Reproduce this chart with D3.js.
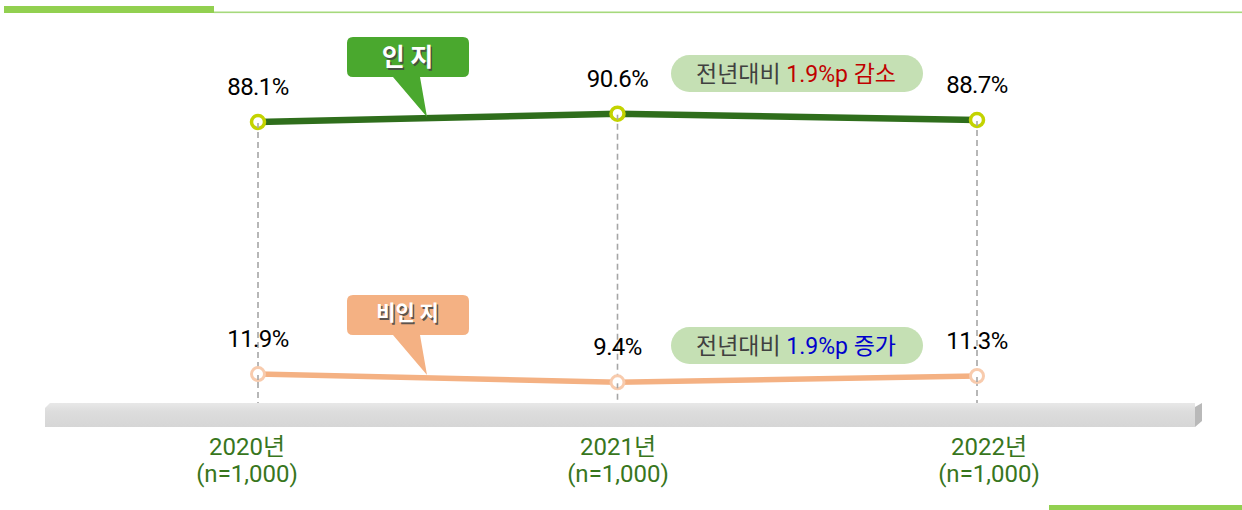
<!DOCTYPE html>
<html><head><meta charset="utf-8">
<script src="https://cdn.jsdelivr.net/npm/d3@7"></script>
<style>
html,body{margin:0;padding:0;background:#fff;}
svg{display:block;font-family:Roboto,"Noto Sans CJK KR",sans-serif;}
</style></head>
<body>
<svg id="c" width="1242" height="510"></svg>
<script>
const years = ["2020년", "2021년", "2022년"];
const sampleLabels = ["(n=1,000)", "(n=1,000)", "(n=1,000)"];
const aware = [88.1, 90.6, 88.7];
const unaware = [11.9, 9.4, 11.3];
const awareName = "인 지";
const unawareName = "비인 지";
const awareChange = ["전년대비 ", "1.9%p 감소"];
const unawareChange = ["전년대비 ", "1.9%p 증가"];

const svg = d3.select("#c");
const x = d3.scalePoint().domain(years).range([258, 977]);
const xLabel = d3.scalePoint().domain(years).range([247, 989]);
const y = d3.scaleLinear().domain([0, 100]).range([413.4, 82.6]);

// decorative bars
svg.append("rect").attr("x",4).attr("y",6).attr("width",210).attr("height",7).attr("fill","#92d050");
svg.append("rect").attr("x",214).attr("y",11.5).attr("width",1028).attr("height",1.6).attr("fill","#a6d97c");
svg.append("rect").attr("x",1049).attr("y",505).attr("width",193).attr("height",5).attr("fill","#92d050");

// platform
const defs = svg.append("defs");
const g1 = defs.append("linearGradient").attr("id","plat").attr("x1",0).attr("y1",0).attr("x2",0).attr("y2",1);
g1.append("stop").attr("offset","0%").attr("stop-color","#e8e8e8");
g1.append("stop").attr("offset","35%").attr("stop-color","#dddddd");
g1.append("stop").attr("offset","100%").attr("stop-color","#d6d6d6");
svg.append("path").attr("d","M45,408 L50,403 L1195,403 L1195,427 L45,427 Z").attr("fill","url(#plat)");
svg.append("path").attr("d","M1195,407 L1202,403 L1202,421 L1195,427 Z").attr("fill","#b9b9b9");

// dashed guides
svg.append("g").selectAll("line").data(years).join("line")
  .attr("x1",d=>x(d)).attr("x2",d=>x(d))
  .attr("y1",(d,i)=>y(aware[i])).attr("y2",403)
  .attr("stroke","#a6a6a6").attr("stroke-width",1.6).attr("stroke-dasharray","6,4");

// lines
const line = d3.line().x((d,i)=>x(years[i])).y(d=>y(d));
svg.append("path").datum(aware).attr("d",line).attr("fill","none").attr("stroke","#2f6e1c").attr("stroke-width",6.5);
svg.append("path").datum(unaware).attr("d",line).attr("fill","none").attr("stroke","#f4b183").attr("stroke-width",5.5);

// markers
svg.append("g").selectAll("circle").data(aware).join("circle")
  .attr("cx",(d,i)=>x(years[i])).attr("cy",d=>y(d)).attr("r",6.5)
  .attr("fill","#fff").attr("stroke","#c3d300").attr("stroke-width",3.5);
svg.append("g").selectAll("circle").data(unaware).join("circle")
  .attr("cx",(d,i)=>x(years[i])).attr("cy",d=>y(d)).attr("r",6.5)
  .attr("fill","#fff").attr("stroke","#f8cbad").attr("stroke-width",3);
svg.append("g").selectAll("line").data(years).join("line")
  .attr("x1",d=>x(d)).attr("x2",d=>x(d))
  .attr("y1",(d,i)=>y(aware[i])+1).attr("y2",(d,i)=>y(aware[i])+6)
  .attr("stroke","#a6a6a6").attr("stroke-width",1.6);
svg.append("g").selectAll("line").data(years).join("line")
  .attr("x1",d=>x(d)).attr("x2",d=>x(d))
  .attr("y1",(d,i)=>y(unaware[i])+1).attr("y2",(d,i)=>y(unaware[i])+6)
  .attr("stroke","#a6a6a6").attr("stroke-width",1.6);

// value labels
function vlabels(arr){
  svg.append("g").selectAll("text").data(arr).join("text")
    .attr("x",(d,i)=>x(years[i])).attr("y",d=>y(d)-27)
    .attr("text-anchor","middle").attr("font-size",24).attr("letter-spacing","-0.6")
    .attr("fill","#000").text(d=>d.toFixed(1)+"%");
}
vlabels(aware); vlabels(unaware);

// callouts
function callout(top, fill, label, fs, base){
  const L=347,R=469,T=top,B=top+40,r=6;
  const tipY = T+80;
  const d = `M${L+r},${T} L${R-r},${T} Q${R},${T} ${R},${T+r} L${R},${B-r} Q${R},${B} ${R-r},${B} L420,${B} L427,${tipY} L393,${B} L${L+r},${B} Q${L},${B} ${L},${B-r} L${L},${T+r} Q${L},${T} ${L+r},${T} Z`;
  svg.append("path").attr("d",d).attr("fill",fill);
  svg.append("text").attr("x",409).attr("y",base+0.5).attr("text-anchor","middle")
    .attr("font-size",fs).attr("font-weight","bold").attr("fill","#444").attr("opacity",0.85)
    .attr("font-family","'Noto Sans CJK KR',sans-serif").text(label);
  svg.append("text").attr("x",407.5).attr("y",base-1).attr("text-anchor","middle")
    .attr("font-size",fs).attr("font-weight","bold").attr("fill","#fff")
    .attr("font-family","'Noto Sans CJK KR',sans-serif").text(label);
}
callout(37, "#4aa82e", awareName, 25, 67);
callout(295, "#f4b183", unawareName, 21, 321);

// change pills
function pill(top, parts, col){
  svg.append("rect").attr("x",671).attr("y",top).attr("width",252).attr("height",37)
    .attr("rx",18.5).attr("fill","#c5e0b4");
  const t = svg.append("text").attr("x",796).attr("y",top+27).attr("text-anchor","middle")
    .attr("font-size",23);
  t.append("tspan").attr("fill","#404040").text(parts[0]);
  t.append("tspan").attr("fill",col).text(parts[1]);
}
pill(55, awareChange, "#c00000");
pill(327, unawareChange, "#0000cc");

// x labels
const xl = svg.append("g").selectAll("text").data(years).join("text")
  .attr("x",d=>xLabel(d)).attr("y",455).attr("text-anchor","middle")
  .attr("font-size",24).attr("fill","#38761d");
xl.append("tspan").attr("x",d=>xLabel(d)).text(d=>d);
xl.append("tspan").attr("x",d=>xLabel(d)).attr("dy",27).text((d,i)=>sampleLabels[i]);
</script>
</body></html>
